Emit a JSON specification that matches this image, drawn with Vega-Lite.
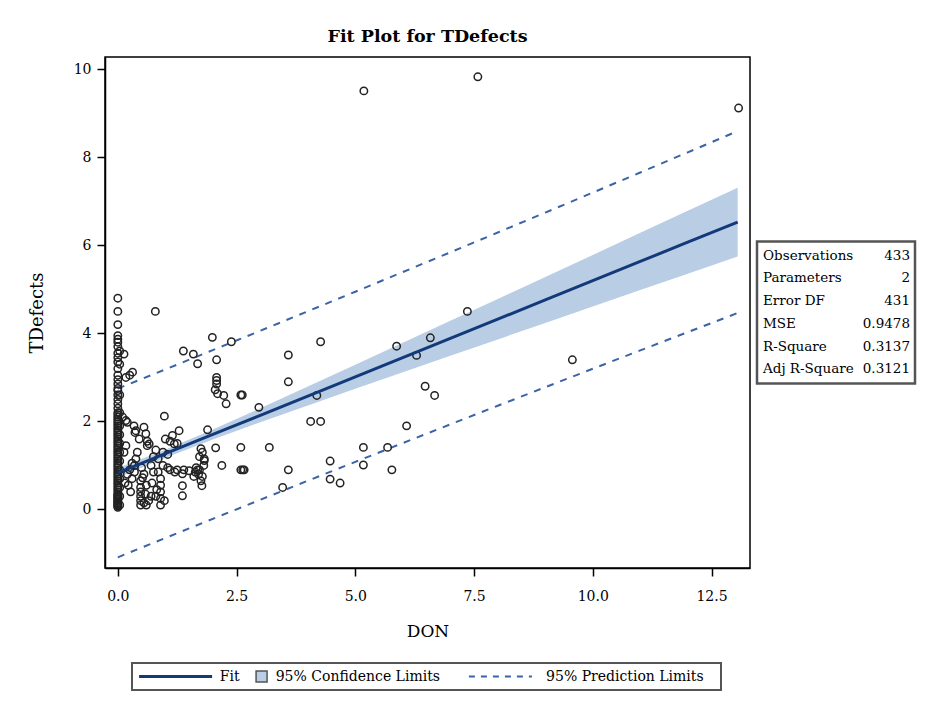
{
"$schema":"https://vega.github.io/schema/vega-lite/v6.json",
"padding":{"left":27,"top":26,"right":5,"bottom":5},
"background":"white",
"config":{"font":"DejaVu Serif","view":{"stroke":null},
"axis":{"domainColor":"black","domainWidth":1.5,"tickColor":"black","tickWidth":1.5,"tickSize":8,"labelColor":"black","labelFontSize":14,"labelFont":"DejaVu Serif","titleFont":"DejaVu Serif","titleFontWeight":"normal","titleColor":"black","grid":false}},
"datasets":{
"points":[
{"DON":0,"TDefects":0.05},{"DON":0,"TDefects":0.08},{"DON":0,"TDefects":0.1},{"DON":0,"TDefects":0.13},{"DON":0,"TDefects":0.15},{"DON":0,"TDefects":0.18},{"DON":0,"TDefects":0.2},{"DON":0,"TDefects":0.23},{"DON":0,"TDefects":0.25},{"DON":0,"TDefects":0.28},{"DON":0,"TDefects":0.3},{"DON":0,"TDefects":0.33},{"DON":0,"TDefects":0.35},{"DON":0,"TDefects":0.4},{"DON":0,"TDefects":0.45},{"DON":0,"TDefects":0.5},{"DON":0,"TDefects":0.55},{"DON":0,"TDefects":0.6},{"DON":0,"TDefects":0.65},{"DON":0,"TDefects":0.7},{"DON":0,"TDefects":0.75},{"DON":0,"TDefects":0.8},{"DON":0,"TDefects":0.85},{"DON":0,"TDefects":0.9},{"DON":0,"TDefects":0.95},{"DON":0,"TDefects":1.0},{"DON":0,"TDefects":1.05},{"DON":0,"TDefects":1.1},{"DON":0,"TDefects":1.15},{"DON":0,"TDefects":1.2},{"DON":0,"TDefects":1.25},{"DON":0,"TDefects":1.3},{"DON":0,"TDefects":1.35},{"DON":0,"TDefects":1.4},{"DON":0,"TDefects":1.45},{"DON":0,"TDefects":1.5},{"DON":0,"TDefects":1.55},{"DON":0,"TDefects":1.6},{"DON":0,"TDefects":1.65},{"DON":0,"TDefects":1.7},{"DON":0,"TDefects":1.75},{"DON":0,"TDefects":1.8},{"DON":0,"TDefects":1.85},{"DON":0,"TDefects":1.9},{"DON":0,"TDefects":1.95},{"DON":0,"TDefects":2.0},{"DON":0,"TDefects":2.05},{"DON":0,"TDefects":2.1},{"DON":0,"TDefects":2.15},{"DON":0,"TDefects":2.2},{"DON":0,"TDefects":2.3},{"DON":0,"TDefects":2.4},{"DON":0,"TDefects":2.5},{"DON":0,"TDefects":2.6},{"DON":0,"TDefects":2.7},{"DON":0,"TDefects":2.75},{"DON":0,"TDefects":2.85},{"DON":0,"TDefects":2.95},{"DON":0,"TDefects":3.05},{"DON":0,"TDefects":3.2},{"DON":0,"TDefects":3.35},{"DON":0,"TDefects":3.45},{"DON":0,"TDefects":3.55},{"DON":0,"TDefects":3.7},{"DON":0,"TDefects":3.8},{"DON":0,"TDefects":3.87},{"DON":0,"TDefects":3.95},{"DON":0,"TDefects":4.2},{"DON":0,"TDefects":4.5},{"DON":0,"TDefects":4.8},
{"DON":0.04,"TDefects":0.1},{"DON":0.04,"TDefects":0.3},{"DON":0.04,"TDefects":0.5},{"DON":0.04,"TDefects":0.7},{"DON":0.04,"TDefects":0.9},{"DON":0.04,"TDefects":1.1},{"DON":0.04,"TDefects":1.3},{"DON":0.04,"TDefects":1.5},{"DON":0.04,"TDefects":1.7},{"DON":0.04,"TDefects":1.9},{"DON":0.04,"TDefects":2.2},{"DON":0.04,"TDefects":2.6},{"DON":0.04,"TDefects":3.3},{"DON":0.04,"TDefects":3.6},
{"DON":0.13,"TDefects":3.53},{"DON":0.31,"TDefects":3.12},{"DON":0.17,"TDefects":3.0},{"DON":0.25,"TDefects":3.05},{"DON":0.1,"TDefects":2.1},{"DON":0.17,"TDefects":2.02},{"DON":0.2,"TDefects":1.98},
{"DON":0.34,"TDefects":1.9},{"DON":0.36,"TDefects":1.75},{"DON":0.45,"TDefects":1.6},{"DON":0.55,"TDefects":1.87},{"DON":0.59,"TDefects":1.72},{"DON":0.62,"TDefects":1.55},{"DON":0.38,"TDefects":1.79},{"DON":0.98,"TDefects":2.12},{"DON":0.66,"TDefects":1.49},{"DON":0.62,"TDefects":1.45},
{"DON":1.15,"TDefects":1.68},{"DON":1.29,"TDefects":1.79},{"DON":1.19,"TDefects":1.49},{"DON":1.1,"TDefects":1.55},{"DON":1.25,"TDefects":1.5},{"DON":1.89,"TDefects":1.81},{"DON":2.06,"TDefects":1.4},{"DON":1.78,"TDefects":1.3},{"DON":1.82,"TDefects":1.11},{"DON":1.72,"TDefects":1.2},{"DON":1.75,"TDefects":1.38},{"DON":2.19,"TDefects":1.0},
{"DON":0.13,"TDefects":1.3},{"DON":0.17,"TDefects":1.45},{"DON":0.35,"TDefects":1.0},{"DON":0.38,"TDefects":1.15},{"DON":0.41,"TDefects":1.3},{"DON":0.3,"TDefects":1.05},{"DON":0.27,"TDefects":0.4},
{"DON":0.48,"TDefects":0.1},{"DON":0.48,"TDefects":0.2},{"DON":0.48,"TDefects":0.3},{"DON":0.48,"TDefects":0.4},{"DON":0.48,"TDefects":0.5},{"DON":0.48,"TDefects":0.65},{"DON":0.55,"TDefects":0.8},{"DON":0.5,"TDefects":0.95},{"DON":0.55,"TDefects":0.15},{"DON":0.58,"TDefects":0.35},{"DON":0.6,"TDefects":0.55},{"DON":0.52,"TDefects":0.72},
{"DON":0.9,"TDefects":0.1},{"DON":0.9,"TDefects":0.25},{"DON":0.9,"TDefects":0.4},{"DON":0.9,"TDefects":0.55},{"DON":0.9,"TDefects":0.7},{"DON":0.85,"TDefects":0.85},{"DON":0.95,"TDefects":1.0},{"DON":0.98,"TDefects":0.2},{"DON":0.82,"TDefects":0.45},{"DON":0.8,"TDefects":0.3},
{"DON":1.05,"TDefects":0.95},{"DON":1.1,"TDefects":0.9},{"DON":1.2,"TDefects":0.85},{"DON":1.25,"TDefects":0.9},{"DON":1.36,"TDefects":0.81},{"DON":1.36,"TDefects":0.54},{"DON":1.36,"TDefects":0.31},
{"DON":1.63,"TDefects":0.85},{"DON":1.65,"TDefects":0.95},{"DON":1.7,"TDefects":0.8},{"DON":1.6,"TDefects":0.75},{"DON":1.75,"TDefects":0.65},{"DON":1.77,"TDefects":0.54},{"DON":1.81,"TDefects":1.0},{"DON":1.82,"TDefects":1.15},{"DON":1.78,"TDefects":0.75},{"DON":1.72,"TDefects":0.9},{"DON":1.39,"TDefects":0.9},{"DON":1.5,"TDefects":0.88},{"DON":1.68,"TDefects":0.9},
{"DON":0.7,"TDefects":1.0},{"DON":0.75,"TDefects":0.85},{"DON":0.72,"TDefects":0.6},{"DON":0.7,"TDefects":0.3},{"DON":0.65,"TDefects":0.2},{"DON":0.6,"TDefects":0.1},
{"DON":0.2,"TDefects":0.8},{"DON":0.25,"TDefects":0.9},{"DON":0.3,"TDefects":0.7},{"DON":0.22,"TDefects":0.55},{"DON":0.15,"TDefects":0.6},{"DON":0.35,"TDefects":0.85},
{"DON":1.0,"TDefects":1.6},{"DON":0.95,"TDefects":1.3},{"DON":1.05,"TDefects":1.25},{"DON":0.85,"TDefects":1.15},{"DON":0.8,"TDefects":1.35},{"DON":0.75,"TDefects":1.2},
{"DON":1.38,"TDefects":3.6},{"DON":1.59,"TDefects":3.53},{"DON":1.68,"TDefects":3.31},{"DON":1.99,"TDefects":3.91},{"DON":2.39,"TDefects":3.81},{"DON":2.08,"TDefects":3.4},{"DON":2.08,"TDefects":3.0},{"DON":2.08,"TDefects":2.93},{"DON":2.05,"TDefects":2.72},{"DON":2.1,"TDefects":2.63},{"DON":2.23,"TDefects":2.59},{"DON":2.28,"TDefects":2.4},{"DON":2.08,"TDefects":2.85},
{"DON":2.59,"TDefects":2.6},{"DON":2.62,"TDefects":2.6},{"DON":2.97,"TDefects":2.32},{"DON":2.59,"TDefects":1.41},{"DON":3.19,"TDefects":1.41},{"DON":2.59,"TDefects":0.9},{"DON":2.66,"TDefects":0.9},{"DON":2.63,"TDefects":0.9},{"DON":3.59,"TDefects":0.9},{"DON":3.47,"TDefects":0.5},{"DON":3.59,"TDefects":3.51},{"DON":3.59,"TDefects":2.9},
{"DON":4.27,"TDefects":3.81},{"DON":4.19,"TDefects":2.59},{"DON":4.06,"TDefects":2.0},{"DON":4.27,"TDefects":2.0},{"DON":4.47,"TDefects":1.1},{"DON":4.47,"TDefects":0.69},{"DON":4.68,"TDefects":0.6},{"DON":5.17,"TDefects":1.41},{"DON":5.17,"TDefects":1.01},{"DON":5.68,"TDefects":1.41},{"DON":5.77,"TDefects":0.9},
{"DON":5.87,"TDefects":3.71},{"DON":6.08,"TDefects":1.9},{"DON":6.29,"TDefects":3.5},{"DON":6.47,"TDefects":2.8},{"DON":6.58,"TDefects":3.9},{"DON":6.67,"TDefects":2.59},{"DON":7.36,"TDefects":4.5},{"DON":9.57,"TDefects":3.4},{"DON":5.18,"TDefects":9.51},{"DON":7.58,"TDefects":9.83},{"DON":13.07,"TDefects":9.12},{"DON":0.79,"TDefects":4.5}
],
"fit":[
{"DON":0,"Fit":0.83,"LCLM":0.718,"UCLM":0.942,"LCL":-1.087,"UCL":2.747},
{"DON":1,"Fit":1.267,"LCLM":1.175,"UCLM":1.359,"LCL":-0.649,"UCL":3.182},
{"DON":2,"Fit":1.704,"LCLM":1.592,"UCLM":1.816,"LCL":-0.213,"UCL":3.621},
{"DON":3,"Fit":2.14,"LCLM":1.982,"UCLM":2.298,"LCL":0.22,"UCL":4.06},
{"DON":4,"Fit":2.577,"LCLM":2.363,"UCLM":2.791,"LCL":0.652,"UCL":4.503},
{"DON":5,"Fit":3.014,"LCLM":2.741,"UCLM":3.287,"LCL":1.081,"UCL":4.947},
{"DON":6,"Fit":3.451,"LCLM":3.116,"UCLM":3.786,"LCL":1.508,"UCL":5.394},
{"DON":7,"Fit":3.888,"LCLM":3.491,"UCLM":4.285,"LCL":1.934,"UCL":5.842},
{"DON":8,"Fit":4.324,"LCLM":3.864,"UCLM":4.784,"LCL":2.357,"UCL":6.292},
{"DON":9,"Fit":4.761,"LCLM":4.238,"UCLM":5.284,"LCL":2.778,"UCL":6.745},
{"DON":10,"Fit":5.198,"LCLM":4.612,"UCLM":5.784,"LCL":3.197,"UCL":7.199},
{"DON":11,"Fit":5.635,"LCLM":4.985,"UCLM":6.285,"LCL":3.614,"UCL":7.656},
{"DON":12,"Fit":6.072,"LCLM":5.358,"UCLM":6.786,"LCL":4.029,"UCL":8.114},
{"DON":13.05,"Fit":6.53,"LCLM":5.75,"UCLM":7.311,"LCL":4.464,"UCL":8.597}
],
"stats":[
{"stat":"Observations","value":"433"},
{"stat":"Parameters","value":"2"},
{"stat":"Error DF","value":"431"},
{"stat":"MSE","value":"0.9478"},
{"stat":"R-Square","value":"0.3137"},
{"stat":"Adj R-Square","value":"0.3121"}
],
"legendItems":[
{"item":"fit","label":"Fit"},
{"item":"clm","label":"95% Confidence Limits"},
{"item":"cli","label":"95% Prediction Limits"}
]
},
"spacing":22,
"bounds":"full",
"vconcat":[
{"hconcat":[
{"width":645,"height":511,
"title":{"text":"Fit Plot for TDefects","fontSize":17.5,"fontWeight":"bold","font":"DejaVu Serif","offset":12,"color":"black","anchor":"middle"},
"view":{"stroke":"black","strokeWidth":1.5},
"encoding":{"x":{"field":"DON","type":"quantitative","title":"DON","scale":{"domain":[-0.27,13.31],"nice":false,"zero":false},"axis":{"values":[0,2.5,5,7.5,10,12.5],"format":".1f","labelPadding":13,"titlePadding":20,"titleFontSize":17}}},
"layer":[
{"data":{"name":"fit"},"mark":{"type":"area","color":"#b9cde5","opacity":1},
"encoding":{"y":{"field":"LCLM","type":"quantitative","title":"TDefects","scale":{"domain":[-1.33,10.28],"nice":false,"zero":false},"axis":{"values":[0,2,4,6,8,10],"labelPadding":6,"titlePadding":27,"titleFontSize":18}},"y2":{"field":"UCLM"}}},
{"data":{"name":"fit"},"mark":{"type":"line","color":"#3c63a6","strokeWidth":2,"strokeDash":[7,7]},
"encoding":{"y":{"field":"UCL","type":"quantitative","title":"TDefects","scale":{"domain":[-1.33,10.28],"nice":false,"zero":false}}}},
{"data":{"name":"fit"},"mark":{"type":"line","color":"#3c63a6","strokeWidth":2,"strokeDash":[7,7]},
"encoding":{"y":{"field":"LCL","type":"quantitative","title":"TDefects","scale":{"domain":[-1.33,10.28],"nice":false,"zero":false}}}},
{"data":{"name":"points"},"mark":{"type":"point","shape":"circle","filled":false,"size":55,"stroke":"#222","strokeWidth":1.5,"opacity":1},
"encoding":{"y":{"field":"TDefects","type":"quantitative","title":"TDefects","scale":{"domain":[-1.33,10.28],"nice":false,"zero":false}}}},
{"data":{"name":"fit"},"mark":{"type":"line","color":"#123a7a","strokeWidth":3},
"encoding":{"y":{"field":"Fit","type":"quantitative","title":"TDefects","scale":{"domain":[-1.33,10.28],"nice":false,"zero":false}}}}
]},
{"width":158,"height":142,
"view":{"stroke":"#555","strokeWidth":2.5},
"data":{"name":"stats"},
"encoding":{"y":{"field":"stat","type":"ordinal","sort":null,"scale":{"type":"point","padding":0.62},"axis":null}},
"layer":[
{"mark":{"type":"text","align":"left","baseline":"middle","dx":6,"fontSize":13.5,"font":"DejaVu Serif","color":"black"},
"encoding":{"x":{"datum":0,"type":"quantitative","scale":{"domain":[0,1]},"axis":null},"text":{"field":"stat"}}},
{"mark":{"type":"text","align":"right","baseline":"middle","dx":-5,"fontSize":13.5,"font":"DejaVu Serif","color":"black"},
"encoding":{"x":{"datum":1,"type":"quantitative","scale":{"domain":[0,1]},"axis":null},"text":{"field":"value"}}}
]}
],"spacing":7,"bounds":"flush","center":true},
{"hconcat":[
{"width":20,"height":27,"data":{"values":[]},"mark":"point","encoding":{}},
{"width":589,"height":27,
"view":{"stroke":"#555","strokeWidth":2},
"data":{"name":"legendItems"},
"encoding":{"y":{"datum":0.5,"type":"quantitative","scale":{"domain":[0,1]},"axis":null}},
"layer":[
{"transform":[{"filter":"datum.item === 'fit'"}],"mark":{"type":"rule","color":"#123a7a","strokeWidth":3},
"encoding":{"x":{"datum":1.2,"type":"quantitative","scale":{"domain":[0,100]},"axis":null},"x2":{"datum":13.6}}},
{"transform":[{"filter":"datum.item === 'cli'"}],"mark":{"type":"rule","color":"#3c63a6","strokeWidth":2,"strokeDash":[6,6]},
"encoding":{"x":{"datum":57.2,"type":"quantitative","scale":{"domain":[0,100]},"axis":null},"x2":{"datum":67.9}}},
{"transform":[{"filter":"datum.item === 'clm'"}],"mark":{"type":"point","shape":"square","filled":true,"size":121,"fill":"#b9cde5","stroke":"#555","strokeWidth":1.5,"opacity":1},
"encoding":{"x":{"datum":22.0,"type":"quantitative","scale":{"domain":[0,100]},"axis":null}}},
{"transform":[{"filter":"datum.item === 'fit'"}],"mark":{"type":"text","align":"left","baseline":"middle","fontSize":14,"font":"DejaVu Serif","color":"black"},
"encoding":{"x":{"datum":14.9,"type":"quantitative","scale":{"domain":[0,100]},"axis":null},"text":{"field":"label"}}},
{"transform":[{"filter":"datum.item === 'clm'"}],"mark":{"type":"text","align":"left","baseline":"middle","fontSize":14,"font":"DejaVu Serif","color":"black"},
"encoding":{"x":{"datum":24.4,"type":"quantitative","scale":{"domain":[0,100]},"axis":null},"text":{"field":"label"}}},
{"transform":[{"filter":"datum.item === 'cli'"}],"mark":{"type":"text","align":"left","baseline":"middle","fontSize":14,"font":"DejaVu Serif","color":"black"},
"encoding":{"x":{"datum":70.3,"type":"quantitative","scale":{"domain":[0,100]},"axis":null},"text":{"field":"label"}}}
]}
],"spacing":7,"bounds":"flush"}
]
}
